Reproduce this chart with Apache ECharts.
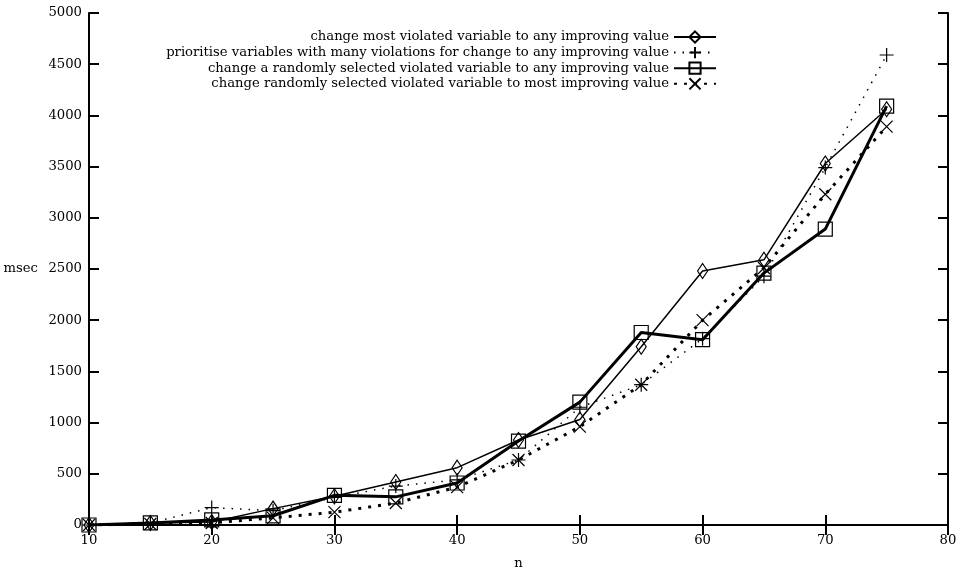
<!DOCTYPE html>
<html>
<head>
<meta charset="utf-8">
<script src="https://cdn.jsdelivr.net/npm/echarts@6/dist/echarts.min.js"></script>
<style>
html, body { margin: 0; padding: 0; background: #fff; }
#chart { width: 958px; height: 569px; }
</style>
</head>
<body>
<div id="chart"></div>
<script>
// problem size n
const nValues = [10, 15, 20, 25, 30, 35, 40, 45, 50, 55, 60, 65, 70, 75]

// msec for each strategy
const mostViolatedAny = [0, 20, 30, 160, 280, 420, 560, 830, 1030, 1740, 2480, 2590, 3530, 4060]
const prioritiseMany = [0, 20, 170, 140, 270, 380, 440, 635, 1150, 1370, 1820, 2430, 3490, 4590]
const randomAny = [0, 20, 50, 90, 290, 275, 410, 820, 1200, 1880, 1810, 2460, 2890, 4090]
const randomMost = [0, 10, 20, 70, 125, 215, 370, 635, 960, 1370, 2000, 2510, 3230, 3890]

const seriesNames = [
  'change most violated variable to any improving value',
  'prioritise variables with many violations for change to any improving value',
  'change a randomly selected violated variable to any improving value',
  'change randomly selected violated variable to most improving value'
]

const font = 'DejaVu Serif'
const fsize = 13.2

function pairs(vals) {
  return nValues.map((n, i) => [n, vals[i]])
}

// hollow marker shapes (lines show through like the original plot)
const diamond = 'path://M5,0L10,7.5L5,15L0,7.5Z'
const plus = 'path://M0,7L14,7M7,0L7,14'
const square = 'path://M0,0L14,0L14,14L0,14Z'
const cross = 'path://M0,0L12,12M12,0L0,12'

function makeSeries(name, vals, symbol, size, lineType, lineWidth) {
  return {
    name: name,
    type: 'line',
    data: pairs(vals),
    symbol: symbol,
    symbolSize: size,
    showAllSymbol: true,
    animation: false,
    lineStyle: { color: '#000', width: lineWidth, type: lineType },
    itemStyle: { color: 'rgba(0,0,0,0)', borderColor: '#000', borderWidth: 1.2 },
    emphasis: { disabled: true }
  }
}

let myChart = echarts.init(document.getElementById('chart'))
myChart.setOption({
  backgroundColor: '#fff',
  animation: false,
  textStyle: { fontFamily: font, color: '#000' },
  grid: { left: 89, right: 10, top: 13, bottom: 44, outerBoundsMode: 'none' },
  legend: {
    orient: 'vertical',
    right: 236,
    top: 25,
    align: 'right',
    itemWidth: 42,
    itemHeight: 14,
    itemGap: 1.6,
    textStyle: { fontFamily: font, fontSize: fsize, lineHeight: 14, color: '#000' },
    data: seriesNames
  },
  xAxis: [
    {
      type: 'value',
      min: 10,
      max: 80,
      interval: 10,
      name: 'n',
      nameLocation: 'middle',
      nameGap: 32,
      nameTextStyle: { fontFamily: font, fontSize: fsize, color: '#000' },
      axisLine: { lineStyle: { color: '#000', width: 2 } },
      axisTick: { inside: true, length: 10, lineStyle: { color: '#000', width: 2 } },
      axisLabel: { color: '#000', fontFamily: font, fontSize: fsize, margin: 9 },
      splitLine: { show: false }
    },
    {
      type: 'value',
      position: 'top',
      min: 10,
      max: 80,
      interval: 10,
      axisLine: { lineStyle: { color: '#000', width: 2 } },
      axisTick: { inside: true, length: 10, lineStyle: { color: '#000', width: 2 } },
      axisLabel: { show: false },
      splitLine: { show: false }
    }
  ],
  yAxis: [
    {
      type: 'value',
      min: 0,
      max: 5000,
      interval: 500,
      name: 'msec',
      nameLocation: 'middle',
      nameRotate: 0,
      nameGap: 51,
      nameTextStyle: { fontFamily: font, fontSize: fsize, color: '#000' },
      axisLine: { lineStyle: { color: '#000', width: 2 } },
      axisTick: { inside: true, length: 10, lineStyle: { color: '#000', width: 2 } },
      axisLabel: { color: '#000', fontFamily: font, fontSize: fsize, margin: 7, formatter: v => String(v) },
      splitLine: { show: false }
    },
    {
      type: 'value',
      position: 'right',
      min: 0,
      max: 5000,
      interval: 500,
      axisLine: { lineStyle: { color: '#000', width: 2 } },
      axisTick: { inside: true, length: 10, lineStyle: { color: '#000', width: 2 } },
      axisLabel: { show: false },
      splitLine: { show: false }
    }
  ],
  series: [
    makeSeries(seriesNames[0], mostViolatedAny, diamond, [10, 15], 'solid', 1.5),
    makeSeries(seriesNames[1], prioritiseMany, plus, 14, [1.5, 7], 1.5),
    makeSeries(seriesNames[2], randomAny, square, 14, 'solid', 3),
    makeSeries(seriesNames[3], randomMost, cross, 12, [3, 7], 3)
  ]
})
</script>
</body>
</html>
